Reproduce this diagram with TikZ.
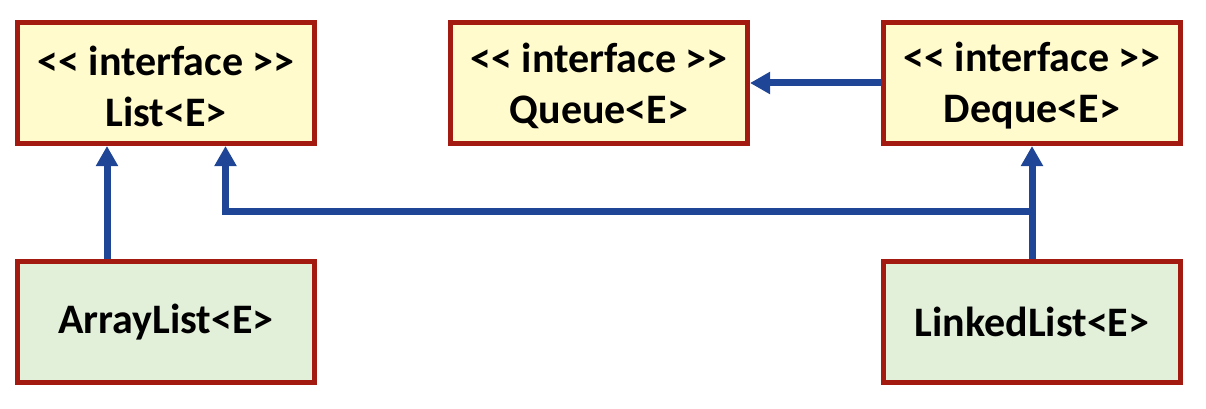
\documentclass[tikz,border=0pt]{standalone}
\usepackage{fontspec}
\setmainfont{Carlito}
\usetikzlibrary{arrows.meta}
\definecolor{bordred}{HTML}{A31A11}
\definecolor{ifyellow}{HTML}{FFFBCC}
\definecolor{clgreen}{HTML}{E2EFD9}
\definecolor{arrblue}{HTML}{1F4696}
\tikzset{
  box/.style={draw=bordred, line width=5pt, minimum width=297pt, minimum height=121pt,
    inner sep=0pt, align=center, font=\fontsize{42}{51}\selectfont\bfseries, text=black},
  ifbox/.style={box, fill=ifyellow},
  clbox/.style={box, fill=clgreen},
  iftext/.style={align=center, inner sep=0pt, font=\fontsize{42}{51}\selectfont\bfseries, text=black, yshift=-3pt},
  arr/.style={draw=arrblue, line width=7pt, -{Triangle[width=21pt,length=20pt]}}
}
\begin{document}
\begin{tikzpicture}[x=1pt,y=-1pt]
\useasboundingbox (0,0) rectangle (1206,409);
\node[ifbox] (list) at (166,83) {};
\node[iftext] (listt) at (list) {<{}< interface >{}>\\List<E>};
\node[ifbox] (queue) at (599,83) {};
\node[iftext] (queuet) at (queue) {<{}< interface >{}>\\Queue<E>};
\node[ifbox] (deque) at (1032,83) {};
\node[iftext] (dequet) at (deque) {<{}< interface >{}>\\Deque<E>};
\node[clbox] (al) at (166,322) {ArrayList<E>};
\node[clbox] (ll) at (1032,322) {LinkedList<E>};
\coordinate (c1) at (107,0);
\coordinate (c2) at (225.5,0);
\coordinate (j) at (0,211);
\draw[arr] (al.north -| c1) -- (list.south -| c1);
\draw[arr] (ll.north) -- (deque.south);
\draw[arr] (ll.north |- j) -| (list.south -| c2);
\draw[arr] (deque.west) -- (queue.east);
\end{tikzpicture}
\end{document}
